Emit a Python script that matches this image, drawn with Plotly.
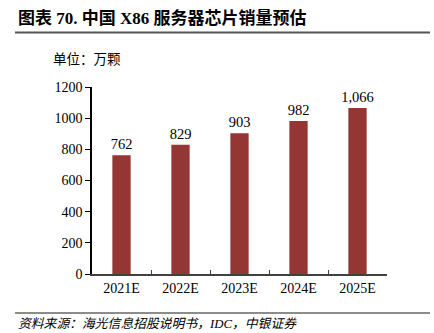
import plotly.graph_objects as go

categories = ["2021E", "2022E", "2023E", "2024E", "2025E"]
values = [762, 829, 903, 982, 1066]
y_ticks = [0, 200, 400, 600, 800, 1000, 1200]

title_text = "图表 70. 中国 X86 服务器芯片销量预估"
unit_text = "单位：万颗"
source_text = "资料来源：海光信息招股说明书，IDC，中银证券"

SERIF = "Liberation Serif, Times New Roman, Noto Sans CJK SC, serif"
BAR_COLOR = "#943634"

# plot area in pixels
L, R, T, B = 92, 387, 87, 274
W, H = 434, 333


def px_x(px):
    return (px - L) / (R - L)


def px_y(py):
    return (B - py) / (B - T)


fig = go.Figure()
fig.add_trace(go.Bar(
    x=categories, y=values,
    marker=dict(color=BAR_COLOR, line=dict(width=0)),
    width=0.31,
    texttemplate="%{y:,}",
    textposition="outside",
    constraintext="none",
    textfont=dict(family=SERIF, size=14.5, color="#000000"),
    cliponaxis=False,
))

fig.update_layout(
    width=W, height=H,
    margin=dict(l=L, r=W - R, t=T, b=H - B),
    paper_bgcolor="white", plot_bgcolor="white",
    showlegend=False,
    font=dict(family=SERIF, color="#000000"),
    xaxis=dict(
        showline=True, linecolor="#404040", linewidth=1.5,
        ticks="inside", tickson="boundaries", ticklen=4, tickcolor="#404040",
        tickfont=dict(family=SERIF, size=14, color="#000000"),
        showgrid=False,
    ),
    yaxis=dict(
        range=[0, 1200], tickvals=y_ticks,
        showline=True, linecolor="#000000", linewidth=1.5,
        ticks="outside", ticklen=5, tickcolor="#000000",
        tickfont=dict(family=SERIF, size=14, color="#000000"),
        showgrid=False, zeroline=False,
    ),
)

fig.add_annotation(
    xref="paper", yref="paper", x=px_x(16), y=px_y(18),
    xanchor="left", yanchor="middle", showarrow=False,
    text="<b>" + title_text + "</b>",
    font=dict(family="Liberation Serif, Noto Sans CJK SC", size=17, color="#000000"),
)
fig.add_annotation(
    xref="paper", yref="paper", x=px_x(51), y=px_y(58),
    xanchor="left", yanchor="middle", showarrow=False,
    text=unit_text,
    font=dict(family="Noto Sans CJK SC", size=13.5, color="#000000"),
)
fig.add_annotation(
    xref="paper", yref="paper", x=px_x(16), y=px_y(324),
    xanchor="left", yanchor="middle", showarrow=False,
    text="<i>" + source_text + "</i>",
    font=dict(family="Liberation Serif, Noto Sans CJK SC", size=12.8, color="#000000"),
)

fig.add_shape(type="line", xref="paper", yref="paper",
              x0=px_x(15), x1=px_x(430), y0=px_y(32.5), y1=px_y(32.5),
              line=dict(color="#555555", width=2))
fig.add_shape(type="line", xref="paper", yref="paper",
              x0=px_x(15), x1=px_x(430), y0=px_y(313), y1=px_y(313),
              line=dict(color="#8c8c8c", width=2))

fig.write_html("out.html")
